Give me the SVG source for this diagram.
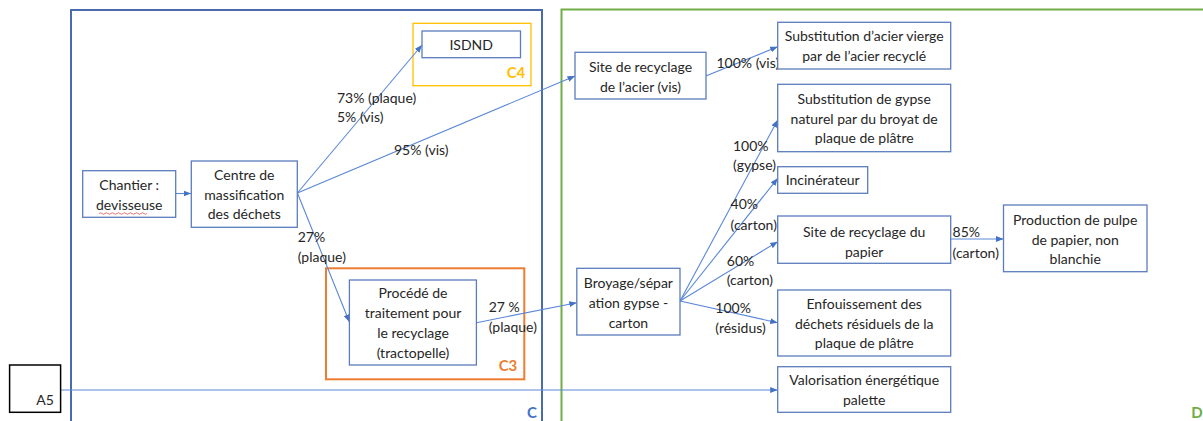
<svg xmlns="http://www.w3.org/2000/svg" width="1203" height="421" viewBox="0 0 1203 421">
<style>
  .node rect { fill: #ffffff; stroke: #5b7dbd; stroke-width: 1.3; }
  text { font-family: Lato, "Liberation Sans", sans-serif; font-size: 14px; fill: #262626; }
  .c { text-anchor: middle; }
  .edge { stroke: #5a87d6; stroke-width: 1.1; fill: none; marker-end: url(#arr); }
  .lbl { font-weight: bold; font-size: 15px; }
</style>
<defs>
  <marker id="arr" markerUnits="userSpaceOnUse" markerWidth="8" markerHeight="8" viewBox="0 0 8 8" refX="7.5" refY="4" orient="auto">
    <path d="M0,1 L7.5,4 L0,7 z" fill="#4472c4"/>
  </marker>
</defs>
<rect width="1203" height="421" fill="#ffffff"/>

<!-- containers -->
<g id="zone-C">
  <rect x="71" y="10" width="471" height="425" fill="none" stroke="#4a6cae" stroke-width="2"/>
  <text x="532" y="418" class="c lbl" style="fill:#4472c4">C</text>
</g>
<g id="zone-D">
  <rect x="561.5" y="9.5" width="700" height="425" fill="none" stroke="#70ad47" stroke-width="2"/>
  <text x="1197" y="418" class="c lbl" style="fill:#70ad47">D</text>
</g>
<g id="zone-C4">
  <rect x="413" y="23.3" width="118" height="62.4" fill="none" stroke="#ffc000" stroke-width="1.3"/>
  <text x="516" y="78" class="c lbl" style="fill:#ffc000">C4</text>
</g>
<g id="zone-C3">
  <rect x="326" y="268.3" width="198.3" height="111" fill="none" stroke="#ed7d31" stroke-width="2"/>
  <text x="508" y="371" class="c lbl" style="fill:#ed7d31">C3</text>
</g>

<!-- connectors -->
<g id="connectors">
  <line class="edge" x1="175.7" y1="193.5" x2="191" y2="193.5"/>
  <line class="edge" x1="297.4" y1="193" x2="422" y2="45"/>
  <line class="edge" x1="297.4" y1="193" x2="575" y2="76"/>
  <line class="edge" x1="297.4" y1="193" x2="349.4" y2="322"/>
  <line class="edge" x1="476.5" y1="322.7" x2="576.8" y2="302.7"/>
  <line class="edge" x1="705.8" y1="76" x2="777.7" y2="46.7"/>
  <line class="edge" x1="680" y1="301" x2="777.7" y2="120"/>
  <line class="edge" x1="680" y1="301" x2="777.7" y2="178.3"/>
  <line class="edge" x1="680" y1="301" x2="777.7" y2="241.7"/>
  <line class="edge" x1="680" y1="301" x2="777.7" y2="322.7"/>
  <line class="edge" x1="950.7" y1="239" x2="1003.5" y2="239"/>
  <line class="edge" x1="60.5" y1="390" x2="777.7" y2="390"/>
  <g id="edge-labels">
    <text x="337" y="102.5">73% (plaque)</text>
    <text x="337" y="121.5">5% (vis)</text>
    <text x="394" y="155">95% (vis)</text>
    <text x="297.7" y="242">27%</text>
    <text x="297.7" y="261.5">(plaque)</text>
    <text x="488.7" y="311.5">27 %</text>
    <text x="488.7" y="331.5">(plaque)</text>
    <text x="716.5" y="68">100% (vis)</text>
    <text x="733" y="151">100%</text>
    <text x="733" y="170">(gypse)</text>
    <text x="730.6" y="208.5">40%</text>
    <text x="730.6" y="230">(carton)</text>
    <text x="726.8" y="265.5">60%</text>
    <text x="726.8" y="285">(carton)</text>
    <text x="715.3" y="313">100%</text>
    <text x="715.3" y="332.5">(résidus)</text>
    <text x="952.6" y="237">85%</text>
    <text x="952.6" y="258">(carton)</text>
  </g>
</g>

<!-- nodes -->
<g id="chantier" class="node">
  <rect x="82.7" y="170.7" width="93" height="46.6"/>
  <text x="129.2" y="190" class="c">Chantier :</text>
  <text x="129.2" y="210" class="c">devisseuse</text>
  <path d="M99,213.5 q1.5,-1.5 3,0 t3,0 t3,0 t3,0 t3,0 t3,0 t3,0 t3,0 t3,0 t3,0 t3,0 t3,0 t3,0 t3,0 t3,0 t3,0" fill="none" stroke="#e05050" stroke-width="0.8"/>
</g>
<g id="centre" class="node">
  <rect x="191.3" y="161" width="106" height="66.3"/>
  <text x="244.3" y="180" class="c">Centre de</text>
  <text x="244.3" y="200" class="c">massification</text>
  <text x="244.3" y="218.5" class="c">des déchets</text>
</g>
<g id="isdnd" class="node">
  <rect x="422" y="31" width="98.5" height="26.7"/>
  <text x="471.2" y="49.5" class="c">ISDND</text>
</g>
<g id="procede" class="node">
  <rect x="349.4" y="280" width="127" height="85"/>
  <text x="413" y="298.3" class="c">Procédé de</text>
  <text x="413" y="318.3" class="c">traitement pour</text>
  <text x="413" y="338.3" class="c">le recyclage</text>
  <text x="413" y="358.3" class="c">(tractopelle)</text>
</g>
<g id="a5">
  <rect x="9.6" y="365" width="51" height="47.3" fill="#ffffff" stroke="#000000" stroke-width="1.5"/>
  <text x="45" y="405" class="c">A5</text>
</g>
<g id="site-acier" class="node">
  <rect x="575" y="52.3" width="131" height="46.7"/>
  <text x="640.5" y="71.5" class="c">Site de recyclage</text>
  <text x="640.5" y="92" class="c">de l’acier (vis)</text>
</g>
<g id="subst-acier" class="node">
  <rect x="777.7" y="22.3" width="173" height="46.7"/>
  <text x="864.2" y="41" class="c">Substitution d’acier vierge</text>
  <text x="864.2" y="61" class="c">par de l’acier recyclé</text>
</g>
<g id="subst-gypse" class="node">
  <rect x="777.7" y="84.3" width="173" height="67.4"/>
  <text x="864.2" y="103.5" class="c">Substitution de gypse</text>
  <text x="864.2" y="123.5" class="c">naturel par du broyat de</text>
  <text x="864.2" y="142.5" class="c">plaque de plâtre</text>
</g>
<g id="incinerateur" class="node">
  <rect x="777.7" y="166.7" width="90" height="26.6"/>
  <text x="822.7" y="185" class="c">Incinérateur</text>
</g>
<g id="papier" class="node">
  <rect x="777.7" y="216" width="173" height="47.3"/>
  <text x="864.2" y="237" class="c">Site de recyclage du</text>
  <text x="864.2" y="257" class="c">papier</text>
</g>
<g id="pulpe" class="node">
  <rect x="1003.5" y="205" width="143.5" height="66.7"/>
  <text x="1075.2" y="225" class="c">Production de pulpe</text>
  <text x="1075.2" y="245" class="c">de papier, non</text>
  <text x="1075.2" y="264" class="c">blanchie</text>
</g>
<g id="broyage" class="node">
  <rect x="576.8" y="268.3" width="103.2" height="66.7"/>
  <text x="628.4" y="288" class="c">Broyage/sépar</text>
  <text x="628.4" y="308" class="c">ation gypse -</text>
  <text x="628.4" y="327.5" class="c">carton</text>
</g>
<g id="enfouissement" class="node">
  <rect x="777.7" y="290" width="173" height="66"/>
  <text x="864.2" y="309" class="c">Enfouissement des</text>
  <text x="864.2" y="329" class="c">déchets résiduels de la</text>
  <text x="864.2" y="348" class="c">plaque de plâtre</text>
</g>
<g id="valorisation" class="node">
  <rect x="777.7" y="366.7" width="173" height="45.6"/>
  <text x="864.2" y="385" class="c">Valorisation énergétique</text>
  <text x="864.2" y="405" class="c">palette</text>
</g>
</svg>
